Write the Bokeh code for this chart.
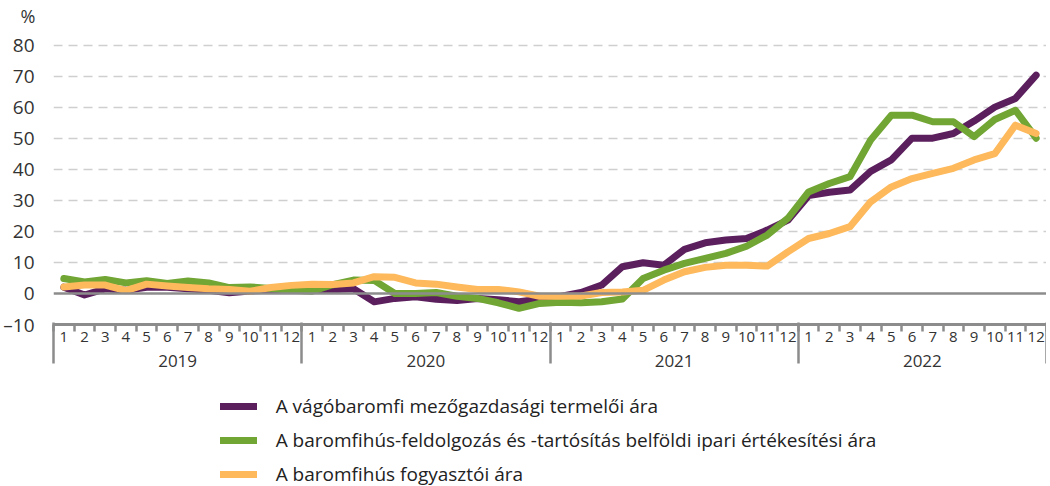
from bokeh.plotting import figure
from bokeh.layouts import column
from bokeh.models import (FixedTicker, LinearAxis, Span, Legend, LegendItem,
                          Range1d, CustomJSTickFormatter)
from bokeh.embed import file_html
from bokeh.resources import INLINE

years = ["2019", "2020", "2021", "2022"]
months = ["1", "2", "3", "4", "5", "6", "7", "8", "9", "10", "11", "12"]

series_names = [
    "A vágóbaromfi mezőgazdasági termelői ára",
    "A baromfihús-feldolgozás és -tartósítás belföldi ipari értékesítési ára",
    "A baromfihús fogyasztói ára",
]

producer = [2.0, -0.5, 1.5, 1.0, 2.0, 2.0, 1.5, 1.0, 0.2, 0.8, 1.0, 1.5,
            1.0, 1.2, 1.5, -2.7, -1.6, -1.1, -1.9, -2.3, -1.6, -2.0, -2.7, -1.9,
            -1.0, 0.3, 2.7, 8.6, 9.9, 9.1, 14.2, 16.3, 17.2, 17.7, 20.4, 23.6,
            31.5, 32.6, 33.3, 39.3, 43.0, 50.0, 50.0, 51.5, 55.5, 60.0, 62.8, 70.3]

industrial = [4.8, 3.7, 4.5, 3.4, 4.1, 3.2, 4.0, 3.4, 1.9, 2.1, 1.6, 1.0,
              0.7, 2.8, 4.3, 4.2, 0.0, 0.0, 0.3, -0.9, -1.6, -3.0, -4.8, -3.2,
              -2.8, -3.0, -2.7, -1.8, 4.8, 7.5, 9.7, 11.3, 12.9, 15.2, 18.8, 24.2,
              32.7, 35.4, 37.6, 49.4, 57.4, 57.4, 55.3, 55.3, 50.5, 56.0, 59.0, 50.0]

consumer = [2.1, 2.7, 2.7, 0.9, 3.0, 2.4, 1.9, 1.5, 1.3, 0.7, 1.9, 2.6,
            3.0, 2.9, 3.4, 5.4, 5.2, 3.4, 3.0, 2.1, 1.3, 1.3, 0.5, -0.9,
            -0.9, -0.8, 0.3, 0.5, 1.0, 4.3, 7.0, 8.4, 9.1, 9.1, 8.8, 13.4,
            17.7, 19.3, 21.5, 29.5, 34.3, 37.0, 38.7, 40.3, 43.0, 45.0, 54.2, 51.5]

colors = ["#5b1f5e", "#71a534", "#fdb95b"]
FONT = "Open Sans"
TXT = "#333333"
GRAY = "#8c8c8c"

n = len(years) * len(months)
xs = [i + 0.5 for i in range(n)]
all_series = [producer, industrial, consumer]

p = figure(frame_width=993, frame_height=295, output_backend="svg", toolbar_location=None,
           x_range=Range1d(0, n), y_range=Range1d(-10, 85),
           x_axis_location=None, min_border_left=50, min_border_right=0,
           min_border_top=25, min_border_bottom=62)
p.outline_line_color = None
p.background_fill_color = "white"
p.border_fill_color = "white"

p.title.text = "%"
p.title.align = "left"
p.title.offset = -33
p.title.text_font = FONT
p.title.text_font_size = "18px"
p.title.text_font_style = "normal"
p.title.text_color = TXT
p.title.standoff = 3

yax = p.yaxis[0]
yax.ticker = FixedTicker(ticks=list(range(-10, 81, 10)))
yax.major_label_overrides = {-10: "–10"}
yax.axis_line_color = None
yax.major_tick_line_color = None
yax.minor_tick_line_color = None
yax.major_label_text_font = FONT
yax.major_label_text_font_size = "19px"
yax.major_label_text_color = TXT
yax.major_label_standoff = 13

p.xgrid.visible = False
p.ygrid.ticker = FixedTicker(ticks=list(range(10, 81, 10)))
p.ygrid.grid_line_color = "#cfcfcf"
p.ygrid.grid_line_width = 1.5
p.ygrid.grid_line_dash = "9 6"

p.add_layout(Span(location=0, dimension="width", line_color=GRAY, line_width=2.5))

for vals, c in zip(all_series, colors):
    p.line(xs, vals, line_color=c, line_width=7, line_cap="round", line_join="round")

# month axis
axA = LinearAxis(
    ticker=FixedTicker(ticks=xs, minor_ticks=list(range(n + 1))),
    formatter=CustomJSTickFormatter(args=dict(labels=months),
                                    code="return labels[Math.floor(tick) % labels.length];"))
axA.axis_line_color = GRAY
axA.axis_line_width = 3
axA.major_tick_out = 3
axA.major_tick_in = 0
axA.major_tick_line_color = None
axA.minor_tick_out = 7
axA.minor_tick_in = 0
axA.minor_tick_line_color = GRAY
axA.minor_tick_line_width = 2.5
axA.major_label_standoff = 0
axA.major_label_text_font = FONT
axA.major_label_text_font_size = "15px"
axA.major_label_text_color = TXT
p.add_layout(axA, "below")

# year axis
m = len(months)
axB = LinearAxis(
    ticker=FixedTicker(ticks=[k * m + m / 2 for k in range(len(years))],
                       minor_ticks=[k * m for k in range(len(years) + 1)]),
    formatter=CustomJSTickFormatter(args=dict(labels=years, m=m),
                                    code="return labels[Math.floor(tick / m)];"))
axB.axis_line_color = None
axB.major_tick_line_color = None
axB.major_tick_out = 0
axB.major_tick_in = 0
axB.minor_tick_in = 22
axB.minor_tick_out = 19
axB.minor_tick_line_color = GRAY
axB.minor_tick_line_width = 2.5
axB.major_label_standoff = -9
axB.major_label_text_font = FONT
axB.major_label_text_font_size = "17px"
axB.major_label_text_color = TXT
p.add_layout(axB, "below")

# legend (separate strip below the chart; its lines sit outside the visible range)
pl = figure(frame_width=993, frame_height=105, output_backend="svg", toolbar_location=None,
            x_range=Range1d(-3, -2), y_range=Range1d(-3, -2),
            x_axis_location=None, y_axis_location=None,
            min_border_left=48, min_border_right=2, min_border_top=0, min_border_bottom=0)
pl.outline_line_color = None
pl.xgrid.visible = False
pl.ygrid.visible = False
pl.border_fill_color = "white"

items = []
for nm, vals, c in zip(series_names, all_series, colors):
    r = pl.line(xs, vals, line_color=c, line_width=7, line_cap="round", line_join="round")
    items.append(LegendItem(label=nm, renderers=[r]))

legend = Legend(items=items, location=(203, 4), orientation="vertical")
legend.label_text_font = FONT
legend.label_text_font_size = "19px"
legend.label_text_color = "#222222"
legend.glyph_width = 37
legend.glyph_height = 26
legend.label_height = 26
legend.spacing = 8
legend.padding = 0
legend.margin = 0
legend.label_standoff = 19
legend.border_line_color = None
legend.background_fill_alpha = 0
pl.add_layout(legend, "center")

layout = column(p, pl, spacing=0)
open("out.html", "w").write(file_html(layout, INLINE))
